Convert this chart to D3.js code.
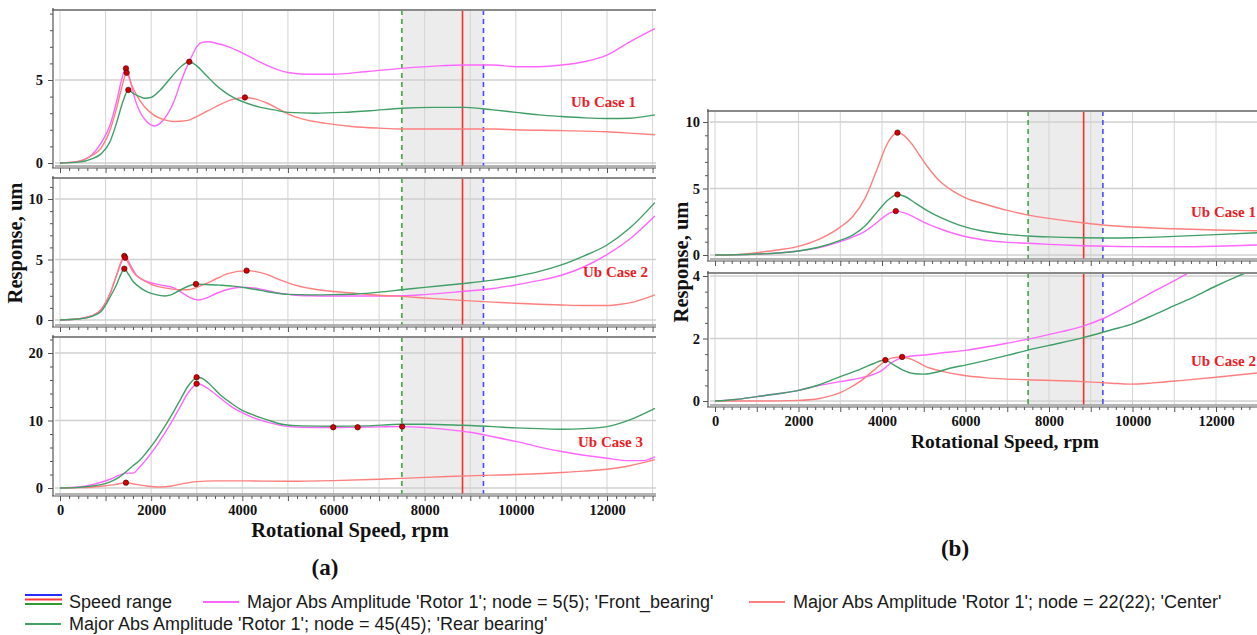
<!DOCTYPE html>
<html>
<head>
<meta charset="utf-8">
<script src="https://cdn.jsdelivr.net/npm/d3@7"></script>
<style>
  body { margin: 0; background: #fff; }
  svg { display: block; }
</style>
</head>
<body>
<svg id="chart"></svg>
<script>
// response curves, [rpm, amplitude um]
// (a) Ub case 1
const a1Front = [[0,0],[400,0.1],[700,0.5],[900,1.2],[1100,2.3],[1250,3.8],[1350,5.0],[1447,5.7],[1550,4.9],[1650,3.8],[1750,3.1],[1900,2.5],[2083,2.23],[2200,2.4],[2350,2.9],[2500,3.7],[2650,4.9],[2850,6.2],[3000,7.0],[3100,7.25],[3250,7.3],[3450,7.2],[3700,7.0],[3950,6.7],[4300,6.2],[4700,5.7],[5000,5.45],[5400,5.35],[6000,5.35],[6700,5.5],[7500,5.7],[8300,5.85],[8900,5.9],[9500,5.9],[10000,5.8],[10500,5.8],[11000,5.9],[11500,6.1],[12000,6.5],[12500,7.3],[13050,8.1]];
const a1Center = [[0,0],[400,0.1],[700,0.45],[900,0.9],[1100,2.0],[1250,3.4],[1350,4.5],[1462,5.44],[1570,4.7],[1700,4.0],[1850,3.4],[2050,2.9],[2300,2.6],[2500,2.5],[2780,2.55],[3000,2.8],[3250,3.15],[3500,3.5],[3750,3.8],[4057,3.95],[4300,3.85],[4550,3.6],[4800,3.25],[5050,2.9],[5400,2.6],[5800,2.4],[6400,2.2],[7000,2.1],[7500,2.05],[8500,2.05],[9500,2.05],[10000,2.0],[11000,1.95],[12000,1.88],[12500,1.8],[13050,1.7]];
const a1Rear = [[0,0],[400,0.05],[700,0.25],[900,0.55],[1100,1.3],[1250,2.5],[1380,3.7],[1499,4.4],[1600,4.2],[1750,4.0],[1870,3.9],[2000,3.95],[2200,4.4],[2450,5.2],[2650,5.8],[2836,6.1],[3000,5.85],[3200,5.3],[3400,4.75],[3600,4.3],[3800,3.95],[4100,3.6],[4400,3.35],[4700,3.2],[5000,3.05],[5600,3.0],[6200,3.05],[6800,3.15],[7500,3.3],[8200,3.35],[8900,3.35],[9500,3.2],[10000,3.05],[10500,2.9],[11000,2.8],[11500,2.72],[12000,2.68],[12500,2.7],[13050,2.9]];
const a1Peaks = [[1447,5.7],[1462,5.44],[1499,4.4],[2836,6.1],[4057,3.95]];

// (a) Ub case 2
const a2Front = [[0,0],[400,0.1],[700,0.35],[900,0.85],[1100,2.2],[1250,3.8],[1350,4.8],[1430,5.2],[1550,4.5],[1700,3.6],[1900,3.2],[2200,2.9],[2500,2.65],[2700,2.2],[2850,1.85],[3033,1.65],[3200,1.8],[3400,2.15],[3650,2.5],[3900,2.68],[4100,2.7],[4400,2.55],[4700,2.3],[5100,2.07],[5500,2.0],[6000,1.98],[7000,1.98],[7500,2.0],[8000,2.1],[8800,2.35],[9500,2.6],[10000,2.9],[10500,3.25],[11000,3.7],[11500,4.4],[12000,5.4],[12500,6.7],[13050,8.6]];
const a2Center = [[0,0],[400,0.1],[700,0.35],[900,0.85],[1100,2.2],[1250,3.8],[1350,4.9],[1411,5.29],[1500,4.7],[1600,4.0],[1800,3.35],[2000,2.95],[2300,2.65],[2600,2.5],[2800,2.5],[3000,2.7],[3200,3.0],[3450,3.45],[3700,3.85],[4094,4.08],[4300,4.0],[4550,3.75],[4800,3.35],[5100,2.95],[5500,2.6],[6000,2.35],[6500,2.2],[7000,2.05],[7500,1.95],[8000,1.82],[8800,1.62],[9500,1.48],[10000,1.38],[10500,1.3],[11000,1.24],[11500,1.2],[12000,1.2],[12300,1.3],[12600,1.5],[13050,2.07]];
const a2Rear = [[0,0],[400,0.08],[700,0.3],[900,0.7],[1100,1.9],[1250,3.0],[1350,3.9],[1411,4.24],[1500,3.8],[1600,3.2],[1750,2.7],[1900,2.35],[2100,2.1],[2300,1.98],[2450,2.1],[2650,2.5],[2850,2.85],[2982,2.97],[3200,2.93],[3500,2.88],[3800,2.8],[4100,2.65],[4400,2.45],[4700,2.25],[5000,2.12],[5500,2.08],[6000,2.1],[6500,2.15],[7000,2.3],[7500,2.5],[8000,2.7],[8800,3.0],[9500,3.3],[10000,3.6],[10500,4.0],[11000,4.55],[11500,5.3],[12000,6.2],[12500,7.6],[13050,9.7]];
const a2Peaks = [[1411,5.29],[1430,5.15],[1411,4.24],[2982,2.97],[4094,4.08]];

// (a) Ub case 3
const a3Front = [[0,0],[400,0.15],[700,0.5],[900,0.85],[1100,1.3],[1300,1.9],[1450,2.2],[1600,2.2],[1750,3.1],[1900,4.3],[2050,5.6],[2200,7.1],[2350,8.7],[2500,10.4],[2650,12.2],[2800,14.0],[2920,15.0],[2997,15.45],[3100,15.3],[3250,14.7],[3500,13.4],[3750,12.1],[3950,11.3],[4250,10.4],[4550,9.75],[4900,9.2],[5300,9.0],[5994,8.95],[6530,9.0],[7000,9.05],[7506,9.1],[8000,8.95],[8500,8.65],[9000,8.25],[9500,7.6],[10000,6.9],[10500,6.1],[11000,5.4],[11500,4.85],[12000,4.4],[12500,4.05],[12800,4.05],[13050,4.6]];
const a3Center = [[0,0],[500,0.05],[900,0.25],[1200,0.5],[1447,0.79],[1650,0.55],[1900,0.3],[2200,0.15],[2450,0.3],[2700,0.65],[3000,0.95],[3400,1.05],[4000,1.05],[5000,1.0],[6000,1.1],[7000,1.3],[7500,1.43],[8500,1.7],[9500,1.9],[10000,2.0],[11000,2.3],[11500,2.5],[12000,2.77],[12500,3.3],[13050,4.2]];
const a3Rear = [[0,0],[400,0.1],[700,0.3],[900,0.5],[1100,0.9],[1300,1.6],[1450,2.4],[1600,3.3],[1750,4.1],[1900,5.3],[2050,6.6],[2200,8.1],[2350,9.7],[2500,11.4],[2650,13.2],[2800,15.0],[2920,16.0],[2997,16.4],[3100,16.3],[3250,15.6],[3500,13.9],[3750,12.6],[3950,11.7],[4250,10.8],[4550,10.1],[4900,9.4],[5300,9.2],[6000,9.15],[6700,9.2],[7500,9.45],[8000,9.45],[8800,9.3],[9500,9.1],[10000,8.9],[10500,8.8],[11000,8.7],[11500,8.8],[12000,9.1],[12500,10.1],[13050,11.8]];
const a3Peaks = [[1447,0.79],[2997,16.4],[2997,15.45],[5994,9.0],[6530,9.0],[7506,9.1]];

// (b) Ub case 1
const b1Front = [[0,0],[500,0.02],[1000,0.07],[1500,0.15],[2000,0.3],[2500,0.55],[3000,1.0],[3300,1.35],[3600,1.8],[3900,2.5],[4150,3.1],[4330,3.3],[4550,3.15],[4800,2.8],[5050,2.4],[5450,1.9],[5850,1.5],[6400,1.15],[7000,0.95],[7500,0.88],[8000,0.8],[8800,0.7],[9500,0.65],[10000,0.63],[11000,0.62],[12000,0.66],[13000,0.75]];
const b1Center = [[0,0],[500,0.03],[1000,0.18],[1500,0.38],[2000,0.65],[2500,1.2],[3000,2.1],[3300,2.9],[3600,4.3],[3900,6.6],[4100,8.2],[4250,8.95],[4370,9.2],[4500,9.05],[4700,8.4],[4900,7.5],[5100,6.6],[5400,5.5],[5700,4.8],[6000,4.3],[6500,3.8],[7000,3.35],[7500,3.0],[8000,2.75],[8800,2.42],[9500,2.2],[10000,2.1],[11000,1.97],[12000,1.88],[13000,1.82]];
const b1Rear = [[0,0],[500,0.02],[1000,0.07],[1500,0.15],[2000,0.3],[2500,0.6],[3000,1.1],[3300,1.5],[3600,2.2],[3900,3.3],[4150,4.15],[4370,4.55],[4550,4.4],[4800,3.9],[5050,3.4],[5450,2.75],[5850,2.25],[6400,1.8],[7000,1.55],[7500,1.43],[8000,1.36],[8800,1.3],[9500,1.28],[10000,1.3],[11000,1.4],[12000,1.53],[13000,1.67]];
const b1Peaks = [[4370,9.2],[4370,4.55],[4330,3.3]];

// (b) Ub case 2
const b2Front = [[0,0],[500,0.05],[1000,0.14],[1500,0.23],[2000,0.34],[2500,0.5],[3000,0.62],[3500,0.74],[3800,0.85],[4000,0.98],[4200,1.2],[4400,1.35],[4600,1.42],[5000,1.47],[5500,1.55],[6000,1.62],[6500,1.73],[7000,1.85],[7500,1.98],[8000,2.13],[8800,2.39],[9300,2.64],[9900,3.05],[10500,3.5],[11000,3.85],[11400,4.15],[11700,4.4]];
const b2Center = [[0,0],[1000,0],[2000,0.02],[2500,0.08],[2700,0.14],[3000,0.27],[3200,0.4],[3500,0.65],[3800,0.98],[4000,1.2],[4250,1.38],[4482,1.41],[4750,1.31],[5050,1.1],[5450,0.95],[5900,0.83],[6500,0.74],[7500,0.68],[8800,0.62],[9500,0.57],[9928,0.54],[10500,0.58],[11200,0.66],[12000,0.76],[13000,0.9]];
const b2Rear = [[0,0],[500,0.05],[1000,0.14],[1500,0.23],[2000,0.34],[2500,0.52],[3000,0.78],[3500,1.03],[3800,1.2],[4080,1.31],[4250,1.18],[4500,0.99],[4750,0.88],[5000,0.86],[5300,0.92],[5600,1.04],[6000,1.15],[6500,1.3],[7000,1.46],[7500,1.63],[8000,1.78],[8800,2.02],[9500,2.28],[10000,2.47],[10500,2.75],[11000,3.05],[11500,3.35],[12000,3.68],[12500,3.98],[13000,4.25]];
const b2Peaks = [[4080,1.31],[4482,1.41]];

// speed range: lower limit, operating speed, upper limit (rpm)
const speedRange = [7500, 8830, 9290];
const xTickLabels = [0, 2000, 4000, 6000, 8000, 10000, 12000];
const caseLabels = ['Ub Case 1', 'Ub Case 2', 'Ub Case 3', 'Ub Case 1', 'Ub Case 2'];
const legendNames = [
  'Speed range',
  "Major Abs Amplitude 'Rotor 1'; node = 5(5); 'Front_bearing'",
  "Major Abs Amplitude 'Rotor 1'; node = 22(22); 'Center'",
  "Major Abs Amplitude 'Rotor 1'; node = 45(45); 'Rear bearing'"
];

const colors = { front: '#ff66ff', center: '#ff7f7f', rear: '#3f9f66' };
const serif = "'Liberation Serif', 'Times New Roman', serif";

const svg = d3.select('#chart').attr('width', 1257).attr('height', 635);

const xA = d3.scaleLinear().domain([0, 12000]).range([60, 607]);
const xB = d3.scaleLinear().domain([0, 12000]).range([715, 1216]);

const panels = [
  { x: xA, left: 55, right: 656, top: 10, bottom: 166, y: d3.scaleLinear().domain([0, 5]).range([163, 80]),
    major: [0, 5, 10], minor: 1, series: [a1Front, a1Center, a1Rear], peaks: a1Peaks, lx: 571, ly: 107, labels: false, tickPad: 5 },
  { x: xA, left: 55, right: 656, top: 178, bottom: 325, y: d3.scaleLinear().domain([0, 10]).range([320, 199]),
    major: [0, 5, 10], minor: 1, series: [a2Front, a2Center, a2Rear], peaks: a2Peaks, lx: 583, ly: 277, labels: false, tickPad: 5 },
  { x: xA, left: 55, right: 656, top: 337, bottom: 494, y: d3.scaleLinear().domain([0, 20]).range([488, 353]),
    major: [0, 10, 20], minor: 2, series: [a3Front, a3Center, a3Rear], peaks: a3Peaks, lx: 578, ly: 447, labels: true, tickPad: 5 },
  { x: xB, left: 710, right: 1257, top: 111, bottom: 259, y: d3.scaleLinear().domain([0, 10]).range([255, 122]),
    major: [0, 5, 10], minor: 1, series: [b1Front, b1Center, b1Rear], peaks: b1Peaks, lx: 1191, ly: 217, labels: false, tickPad: 3 },
  { x: xB, left: 710, right: 1257, top: 273, bottom: 405, y: d3.scaleLinear().domain([0, 4]).range([401, 276]),
    major: [0, 2, 4], minor: 0.5, series: [b2Front, b2Center, b2Rear], peaks: b2Peaks, lx: 1191, ly: 366, labels: true, tickPad: 3 }
];

const seriesColors = [colors.front, colors.center, colors.rear];

panels.forEach((p, i) => {
  const g = svg.append('g');
  const w = p.right - p.left;
  const h = p.bottom - p.top;

  svg.append('clipPath').attr('id', 'clip' + i)
    .append('rect').attr('x', p.left).attr('y', p.top).attr('width', w).attr('height', h);

  // speed range band
  g.append('rect')
    .attr('x', p.x(speedRange[0])).attr('y', p.top)
    .attr('width', p.x(speedRange[2]) - p.x(speedRange[0])).attr('height', h)
    .attr('fill', '#ececec');

  // grid
  const xMajor = d3.range(0, 13001, 1000).filter(v => p.x(v) >= p.left && p.x(v) <= p.right);
  g.selectAll('.vgrid').data(xMajor).enter().append('line')
    .attr('x1', d => p.x(d)).attr('x2', d => p.x(d))
    .attr('y1', p.top).attr('y2', p.bottom)
    .attr('stroke', '#d4d4d4').attr('stroke-width', 1);
  const yMajor = p.major.filter(v => p.y(v) >= p.top && p.y(v) <= p.bottom);
  g.selectAll('.hgrid').data(yMajor).enter().append('line')
    .attr('x1', p.left).attr('x2', p.right)
    .attr('y1', d => p.y(d)).attr('y2', d => p.y(d))
    .attr('stroke', '#d0d0d0').attr('stroke-width', 1.5);

  // speed range markers
  const marks = [
    { v: speedRange[0], c: '#3daa3d', dash: '5,4' },
    { v: speedRange[1], c: '#ff2a2a', dash: null },
    { v: speedRange[2], c: '#4a4aff', dash: '5,4' }
  ];
  marks.forEach(m => {
    g.append('line')
      .attr('x1', p.x(m.v)).attr('x2', p.x(m.v))
      .attr('y1', p.top).attr('y2', p.bottom)
      .attr('stroke', m.c).attr('stroke-width', 1.6)
      .attr('stroke-dasharray', m.dash);
  });

  // curves
  const line = d3.line()
    .x(d => p.x(d[0]))
    .y(d => p.y(d[1]))
    .curve(d3.curveMonotoneX);
  const curves = g.append('g').attr('clip-path', `url(#clip${i})`);
  p.series.forEach((s, k) => {
    curves.append('path')
      .attr('d', line(s))
      .attr('fill', 'none')
      .attr('stroke', seriesColors[k])
      .attr('stroke-width', 1.4);
  });

  // peak markers
  curves.selectAll('.peak').data(p.peaks).enter().append('circle')
    .attr('cx', d => p.x(d[0])).attr('cy', d => p.y(d[1]))
    .attr('r', 2.7)
    .attr('fill', '#d10000').attr('stroke', '#5a0000').attr('stroke-width', 0.7);

  // frame
  g.append('line').attr('x1', p.left - 3).attr('x2', p.right).attr('y1', p.top).attr('y2', p.top)
    .attr('stroke', '#8a8a8a').attr('stroke-width', 2);
  g.append('line').attr('x1', p.left).attr('x2', p.right).attr('y1', p.bottom).attr('y2', p.bottom)
    .attr('stroke', '#9a9a9a').attr('stroke-width', 1.5);

  // y axis
  const axX = p.left - 2;
  const yMinor = d3.range(0, p.y.invert(p.top) + 1e-6, p.minor).filter(v => !p.major.includes(v));
  const yAxisMinor = g.append('g').attr('transform', `translate(${axX},0)`)
    .call(d3.axisLeft(p.y).tickValues(yMinor).tickSize(3).tickFormat(''));
  yAxisMinor.select('.domain').remove();
  const yAxis = g.append('g').attr('transform', `translate(${axX},0)`)
    .call(d3.axisLeft(p.y).tickValues(yMajor).tickSize(5).tickPadding(p.tickPad).tickFormat(d => d));
  yAxis.select('.domain').remove();
  yAxis.selectAll('text')
    .attr('font-family', serif).attr('font-weight', 'bold').attr('font-size', 14.5).attr('fill', '#111');
  g.selectAll('.tick line').attr('stroke', '#555');
  g.append('line').attr('x1', axX).attr('x2', axX).attr('y1', p.top - 2).attr('y2', p.bottom + 2)
    .attr('stroke', '#555').attr('stroke-width', 1.2);

  // x axis
  const axY = p.bottom + 2;
  const xMinor = d3.range(0, 13001, 200).filter(v => v % 1000 !== 0 && p.x(v) <= p.right);
  const xAxisMinor = g.append('g').attr('transform', `translate(0,${axY})`)
    .call(d3.axisBottom(p.x).tickValues(xMinor).tickSize(3).tickFormat(''));
  xAxisMinor.select('.domain').remove();
  const xAxis = g.append('g').attr('transform', `translate(0,${axY})`)
    .call(d3.axisBottom(p.x).tickValues(xMajor).tickSize(5).tickPadding(4)
      .tickFormat(d => (p.labels && xTickLabels.includes(d)) ? d : ''));
  xAxis.select('.domain').remove();
  xAxis.selectAll('text')
    .attr('font-family', serif).attr('font-weight', 'bold').attr('font-size', 14.5).attr('fill', '#111');
  g.selectAll('.tick line').attr('stroke', '#555');
  g.append('line').attr('x1', p.left - 3).attr('x2', p.right).attr('y1', axY).attr('y2', axY)
    .attr('stroke', '#555').attr('stroke-width', 1.2);

  // case label
  g.append('text')
    .attr('x', p.lx).attr('y', p.ly)
    .attr('font-family', serif).attr('font-weight', 'bold').attr('font-size', 15)
    .attr('fill', '#ee1c25')
    .text(caseLabels[i]);
});

// axis titles
const titles = [
  { x: 350, y: 537, size: 20.5, text: 'Rotational Speed, rpm', rot: false },
  { x: 1005, y: 448, size: 19.5, text: 'Rotational Speed, rpm', rot: false },
  { x: 22, y: 243, size: 20.5, text: 'Response, um', rot: true },
  { x: 688, y: 262, size: 20.5, text: 'Response, um', rot: true },
  { x: 325, y: 575, size: 23, text: '(a)', rot: false },
  { x: 955, y: 556, size: 23, text: '(b)', rot: false }
];
titles.forEach(t => {
  svg.append('text')
    .attr('transform', t.rot ? `translate(${t.x},${t.y}) rotate(-90)` : `translate(${t.x},${t.y})`)
    .attr('text-anchor', 'middle')
    .attr('font-family', serif).attr('font-weight', 'bold').attr('font-size', t.size)
    .attr('fill', '#111')
    .text(t.text);
});

// legend
const sans = "'Liberation Sans', Arial, sans-serif";
const legend = svg.append('g');
const legendPos = [
  { x: 25, y: 602, color: null },
  { x: 203, y: 602, color: colors.front },
  { x: 749, y: 602, color: colors.center },
  { x: 25, y: 624, color: colors.rear }
];
legendPos.forEach((l, k) => {
  if (l.color) {
    legend.append('line')
      .attr('x1', l.x).attr('x2', l.x + 36).attr('y1', l.y).attr('y2', l.y)
      .attr('stroke', l.color).attr('stroke-width', 2);
  } else {
    [['#2b2bff', -7], ['#ff3a3a', -2.5], ['#2f9a2f', 2]].forEach(([c, dy]) => {
      legend.append('line')
        .attr('x1', l.x).attr('x2', l.x + 37).attr('y1', l.y + dy).attr('y2', l.y + dy)
        .attr('stroke', c).attr('stroke-width', 2.2);
    });
  }
  legend.append('text')
    .attr('x', l.x + 44).attr('y', l.y + 6)
    .attr('font-family', sans).attr('font-size', 18).attr('fill', '#1a1a1a')
    .text(legendNames[k]);
});
</script>
</body>
</html>
